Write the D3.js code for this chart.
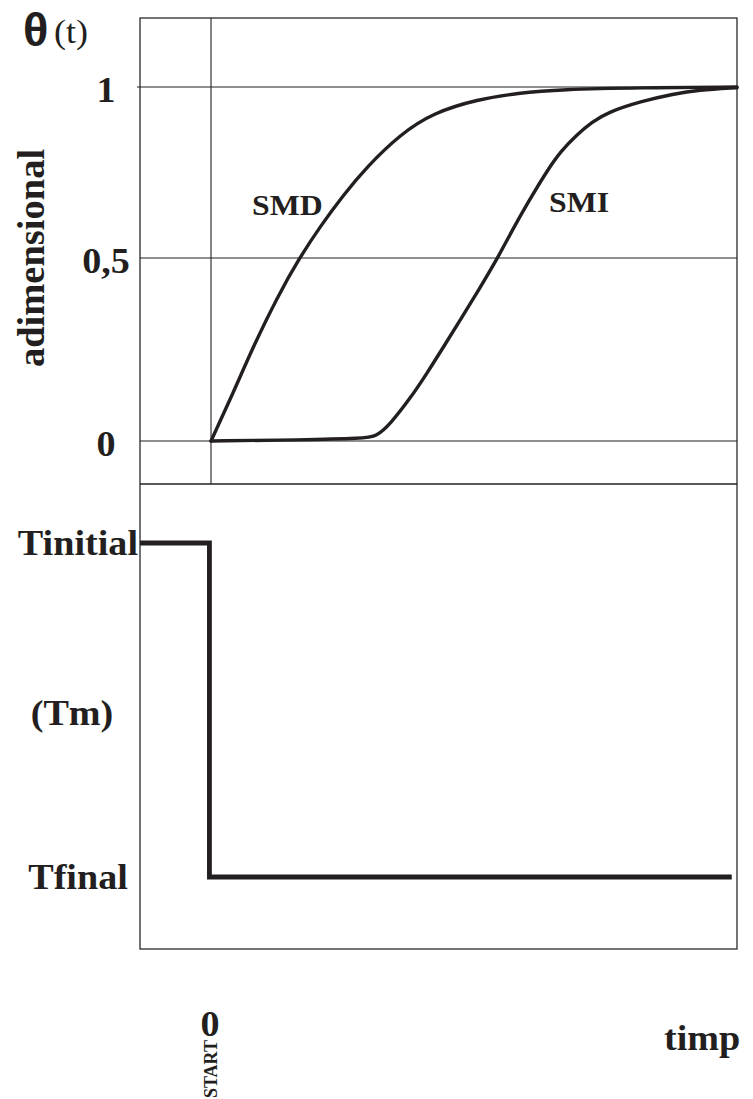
<!DOCTYPE html>
<html><head><meta charset="utf-8">
<script src="https://cdn.jsdelivr.net/npm/d3@7"></script>
<style>html,body{margin:0;padding:0;background:#fff;}svg{display:block;}</style>
</head><body>
<svg id="c" width="753" height="1099"></svg>
<script>
// ---- data ----
const thetaTicks = [0, 0.5, 1];
const thetaTickLabels = ["0", "0,5", "1"];
// SMD curve (time in arbitrary units, 0 = START, 100 = right edge)
const smdTime  = [0, 4.2, 8.0, 12.6, 16.8, 20.8, 25.1, 29.7, 36.0, 42.3, 50.7, 58.3, 66.5, 81.7, 100];
const smdTheta = [0, 0.131, 0.257, 0.393, 0.5, 0.593, 0.683, 0.768, 0.862, 0.925, 0.964, 0.982, 0.993, 0.998, 1.0];
// SMI curve
const smiTime  = [0, 17, 29.0, 31.5, 34.0, 37.9, 41.1, 44.2, 47.4, 50.9, 54.5, 57.3, 60.2, 64.0, 66.5, 69.5, 72.5, 75.4, 81.7, 88.0, 92.6, 100];
const smiTheta = [0, 0.003, 0.007, 0.013, 0.045, 0.117, 0.186, 0.257, 0.331, 0.413, 0.5, 0.582, 0.661, 0.758, 0.812, 0.860, 0.898, 0.926, 0.958, 0.980, 0.991, 0.998];
// temperature step (normalized: Tfinal = 0, Tinitial = 1)
const stepTime = [-13.5, -0.3, 99];
const stepTemp = [1, 0, 0];
const tempLabels = ["Tinitial", "(Tm)", "Tfinal"];
const tempValues = [1, 0.49, 0];
const seriesLabels = ["SMD", "SMI"];

// ---- layout ----
const ink = "#231f20";
const svg = d3.select("#c");
const L = 140, R = 737, topY = 18, midY = 484, botY = 949;
const SX = 1.06; // horizontal glyph stretch seen in the reference

const x = d3.scaleLinear().domain([-13.5, 100]).range([L, R]);
const y = d3.scaleLinear().domain([0, 0.5, 1]).range([441, 258, 87]);
const yT = d3.scaleLinear().domain([0, 1]).range([877, 543]);

function serif(sel, size, bold) {
  return sel.attr("font-family", "Liberation Serif").attr("font-weight", bold ? "bold" : "normal")
    .attr("font-size", size).attr("fill", ink);
}

// frames
svg.append("rect").attr("x", L).attr("y", topY).attr("width", R - L).attr("height", botY - topY)
  .attr("fill", "none").attr("stroke", "#3a3a3a").attr("stroke-width", 1.4);
svg.append("line").attr("x1", L).attr("x2", R).attr("y1", midY).attr("y2", midY)
  .attr("stroke", ink).attr("stroke-width", 1.4);

// grid lines
svg.append("g").selectAll("line").data(thetaTicks).join("line")
  .attr("x1", d => d === 1 ? L - 3 : L).attr("x2", R)
  .attr("y1", d => y(d)).attr("y2", d => y(d))
  .attr("stroke", ink).attr("stroke-width", 1.1);
svg.append("line").attr("x1", x(0)).attr("x2", x(0)).attr("y1", topY).attr("y2", midY)
  .attr("stroke", ink).attr("stroke-width", 1.1);

// tick labels
serif(svg.append("g").selectAll("text").data(thetaTicks).join("text"), 36, true)
  .attr("transform", d => `translate(106,${y(d) + 15}) scale(${SX},1)`)
  .attr("text-anchor", "middle")
  .text((d, i) => thetaTickLabels[i]);

// curves
const line = d3.line().x(d => x(d[0])).y(d => y(d[1])).curve(d3.curveBasis);
const smd = smdTime.map((t, i) => [t, smdTheta[i]]);
const smi = smiTime.map((t, i) => [t, smiTheta[i]]);
[smd, smi].forEach(s => {
  svg.append("path").attr("d", line(s)).attr("fill", "none")
    .attr("stroke", ink).attr("stroke-width", 3.4).attr("stroke-linecap", "round");
});

// series labels
serif(svg.append("text"), 30, true).attr("transform", `translate(252,215) scale(${SX},1)`).text(seriesLabels[0]);
serif(svg.append("text"), 30, true).attr("transform", `translate(549,212) scale(${SX},1)`).text(seriesLabels[1]);

// theta (t)
svg.append("text").attr("x", 23).attr("y", 46)
  .attr("font-family", "Liberation Sans").attr("font-weight", "bold").attr("font-size", 47)
  .attr("fill", ink).text("θ");
serif(svg.append("text"), 34, false).attr("transform", `translate(54,43) scale(${SX},1)`).text("(t)");

// adimensional
serif(svg.append("text"), 38.5, true).attr("transform", "translate(44,258) rotate(-90)")
  .attr("text-anchor", "middle").text("adimensional");

// temperature step
const stepLine = d3.line().x(d => x(d[0])).y(d => yT(d[1])).curve(d3.curveStepAfter);
svg.append("path").attr("d", stepLine(stepTime.map((t, i) => [t, stepTemp[i]])))
  .attr("fill", "none").attr("stroke", ink).attr("stroke-width", 4.8)
  .attr("stroke-linejoin", "miter").attr("stroke-linecap", "butt");

// temperature labels
const tempAnchor = [{x: 138, a: "end"}, {x: 72, a: "middle"}, {x: 78, a: "middle"}];
serif(svg.append("g").selectAll("text").data(tempValues).join("text"), 36, true)
  .attr("transform", (d, i) => `translate(${tempAnchor[i].x},${yT(d) + 12}) scale(${SX},1)`)
  .attr("text-anchor", (d, i) => tempAnchor[i].a)
  .text((d, i) => tempLabels[i]);

// x labels
serif(svg.append("text"), 36, true).attr("transform", `translate(${x(0) - 1},1036) scale(${SX},1)`)
  .attr("text-anchor", "middle").text("0");
serif(svg.append("text"), 18, true).attr("transform", `translate(${x(0) + 6},1040) rotate(-90)`)
  .attr("text-anchor", "end").text("START");
serif(svg.append("text"), 36, true).attr("transform", `translate(664,1050) scale(${SX},1)`).text("timp");
</script>
</body></html>
